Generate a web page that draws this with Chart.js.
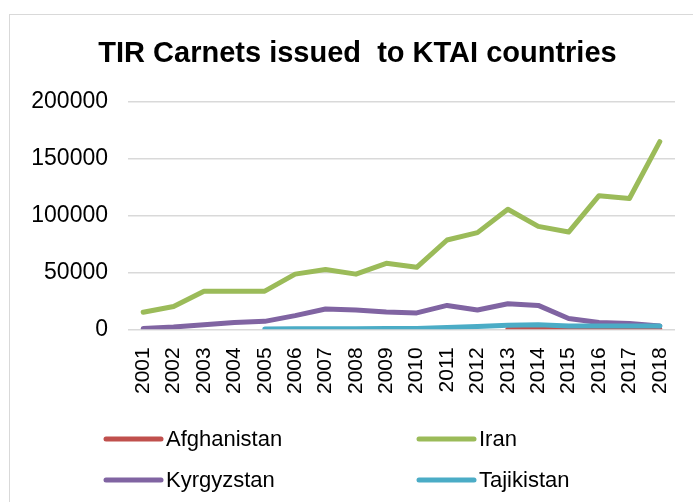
<!DOCTYPE html>
<html>
<head>
<meta charset="utf-8">
<script src="https://cdn.jsdelivr.net/npm/chart.js@4"></script>
<style>
  html, body { margin: 0; padding: 0; background: #fff; overflow: hidden; }
  #wrap { position: relative; width: 693px; height: 502px; }
  #frame { position: absolute; left: 9px; top: 14px; width: 720px; height: 520px;
           border: 1.5px solid #d9d9d9; box-sizing: border-box; }
  canvas { position: absolute; left: 0; top: 0; }
</style>
</head>
<body>
<div id="wrap">
  <div id="frame"></div>
  <canvas id="c" width="693" height="502"></canvas>
</div>
<script>
const years = ['2001','2002','2003','2004','2005','2006','2007','2008','2009','2010','2011','2012','2013','2014','2015','2016','2017','2018'];
const afghanistan = [null,null,null,null,null,null,null,null,null,null,null,null,100,100,100,100,100,100];
const iran        = [15000,20000,33500,33500,33500,48500,52500,48500,58000,54500,78500,85000,105500,90500,85500,117500,115000,165000];
const kyrgyzstan  = [700,2000,4000,6000,7000,12000,17800,17000,15300,14400,21000,17000,22500,21000,9500,6000,5000,3000];
const tajikistan  = [null,null,null,null,300,400,500,500,700,800,1500,2500,3500,4000,3000,3000,3000,3000];
const seriesNames = ['Afghanistan','Iran','Kyrgyzstan','Tajikistan'];
const seriesColors = ['#C0504D','#9BBB59','#8064A2','#4BACC6'];
const yTicks = [0,50000,100000,150000,200000];
const titleText = 'TIR Carnets issued  to KTAI countries';

const seriesData = [afghanistan, iran, kyrgyzstan, tajikistan];
const datasets = seriesNames.map((n,i)=>({
  label: n,
  data: seriesData[i],
  borderColor: seriesColors[i],
  backgroundColor: seriesColors[i],
  borderWidth: 5,
  pointRadius: 0,
  pointHoverRadius: 0,
  tension: 0,
  fill: false,
  spanGaps: false,
  borderCapStyle: 'round',
  borderJoinStyle: 'round',
  order: 4 - i
}));

// Center the title on the (partly cropped) chart frame rather than on the canvas
const titleShift = {
  id: 'titleShift',
  afterLayout(chart) {
    const t = chart.titleBlock;
    if (t) { t.left = 0; t.right = 715; t.width = 715; }
  }
};

const legendPlugin = {
  id: 'gridLegend',
  afterDraw(chart) {
    const ctx = chart.ctx;
    const cols = [106, 419];
    const rows = [439, 480];
    ctx.save();
    ctx.font = '22px "Liberation Sans", Arial, sans-serif';
    ctx.textBaseline = 'middle';
    ctx.textAlign = 'left';
    chart.data.datasets.forEach((ds, i) => {
      const x = cols[i % 2], y = rows[Math.floor(i / 2)];
      ctx.strokeStyle = ds.borderColor;
      ctx.lineWidth = 5;
      ctx.lineCap = 'round';
      ctx.beginPath();
      ctx.moveTo(x, y);
      ctx.lineTo(x + 55, y);
      ctx.stroke();
      ctx.fillStyle = '#000';
      ctx.fillText(ds.label, x + 60, y + 1);
    });
    ctx.restore();
  }
};

new Chart(document.getElementById('c'), {
  type: 'line',
  data: { labels: years, datasets },
  plugins: [titleShift, legendPlugin],
  options: {
    responsive: false,
    animation: false,
    events: [],
    layout: { padding: { left: 0, right: 18, top: 0, bottom: 0 } },
    plugins: {
      legend: { display: false },
      tooltip: { enabled: false },
      title: {
        display: true,
        text: titleText,
        color: '#000',
        font: { family: '"Liberation Sans", Arial, sans-serif', size: 29, weight: 'bold', lineHeight: 1.2 },
        padding: { top: 37, bottom: 30 }
      }
    },
    scales: {
      x: {
        type: 'category',
        offset: true,
        grid: { display: false, drawTicks: false },
        border: { display: false },
        ticks: {
          color: '#000',
          font: { family: '"Liberation Sans", Arial, sans-serif', size: 21 },
          minRotation: 90,
          maxRotation: 90,
          padding: 18,
          autoSkip: false
        },
        afterFit(scale) {
          scale.height = 172.7;
          scale.paddingLeft = 0;
          scale.paddingRight = 0;
        }
      },
      y: {
        min: 0,
        max: 200000,
        afterBuildTicks(scale) { scale.ticks = yTicks.map(v => ({ value: v })); },
        grid: { color: '#d9d9d9', lineWidth: 1.5, drawTicks: false },
        border: { display: false },
        ticks: {
          color: '#000',
          font: { family: '"Liberation Sans", Arial, sans-serif', size: 23 },
          padding: 20,
          callback: v => String(v)
        },
        afterFit(scale) {
          scale.width = 128;
          scale.paddingTop = 0;
          scale.paddingBottom = 0;
        }
      }
    }
  }
});
</script>
</body>
</html>
